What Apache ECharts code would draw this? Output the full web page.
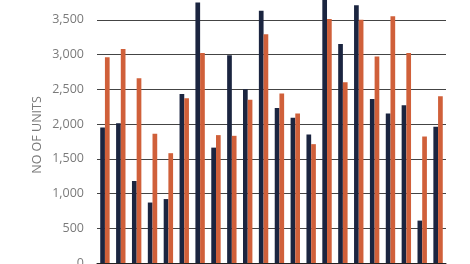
<!DOCTYPE html>
<html><head><meta charset="utf-8">
<script src="https://cdn.jsdelivr.net/npm/echarts@6/dist/echarts.min.js"></script>
<style>html,body{margin:0;padding:0;background:#fff}#c{width:470px;height:264px}</style>
</head><body><div id="c"></div>
<script>
var categories = ['1','2','3','4','5','6','7','8','9','10','11','12','13','14','15','16','17','18','19','20','21','22'];
var seriesA = [1950,2010,1180,870,920,2430,3750,1660,2990,2500,3630,2230,2090,1850,3850,3150,3710,2360,2150,2270,610,1960];
var seriesB = [2960,3080,2660,1860,1580,2370,3020,1840,1830,2350,3290,2440,2150,1710,3510,2600,3500,2970,3550,3020,1820,2400];
var yTicks = [0,500,1000,1500,2000,2500,3000,3500,4000];

var chart = echarts.init(document.getElementById('c'), null, {renderer:'canvas'});
chart.setOption({
  animation:false,
  grid:{left:97, right:24, top:-15, bottom:1, containLabel:false, outerBoundsMode:'none'},
  xAxis:{type:'category', data:categories,
    axisLine:{show:true, lineStyle:{color:'#222', width:1}},
    axisTick:{show:false}, axisLabel:{show:false}},
  yAxis:{type:'value', min:0, max:yTicks[yTicks.length-1], interval:500,
    axisLine:{show:false}, axisTick:{show:false},
    axisLabel:{color:'#7a7a7a', fontFamily:'Open Sans', fontSize:12.5, margin:13, showMaxLabel:false,
      formatter:function(v){return v.toLocaleString('en-US');}},
    splitLine:{lineStyle:{color:'#444', width:1}}},
  series:[
    {type:'bar', data:seriesA, barWidth:4.7, barGap:'0%', itemStyle:{color:'#1b2540'}},
    {type:'bar', data:seriesB, barWidth:4.7, barGap:'0%', itemStyle:{color:'#d0603a'}}
  ],
  graphic:[{type:'text', x:37, y:135, rotation:Math.PI/2,
    style:{text:'NO OF UNITS', fill:'#7a7a7a', font:'12.5px "Open Sans"', align:'center', verticalAlign:'middle'}}]
});
</script></body></html>
